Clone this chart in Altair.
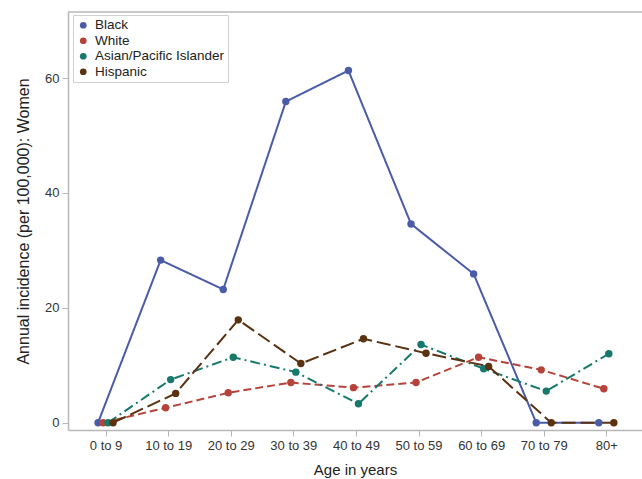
import altair as alt
import pandas as pd

# Age bands on the x axis
age_bands = ["0 to 9", "10 to 19", "20 to 29", "30 to 39", "40 to 49",
             "50 to 59", "60 to 69", "70 to 79", "80+"]

# Series names, in drawing / legend order
groups = ["Black", "White", "Asian/Pacific Islander", "Hispanic"]

# Annual incidence per 100,000 women, by age band
black = [0, 28.3, 23.2, 55.9, 61.3, 34.6, 25.9, 0, 0]
white = [0, 2.6, 5.2, 7.0, 6.1, 7.0, 11.4, 9.2, 5.9]
asian_pi = [0, 7.5, 11.4, 8.8, 3.3, 13.6, 9.4, 5.5, 12.0]
hispanic = [0, 5.1, 17.9, 10.3, 14.6, 12.1, 9.8, 0, 0]

colors = ["#4a5ba8", "#b5433a", "#16796b", "#5a3210"]
dashes = [[1, 0], [8, 4], [10, 4, 2, 4], [14, 5]]

series = [black, white, asian_pi, hispanic]
rows = []
for order, (name, vals) in enumerate(zip(groups, series)):
    for idx, v in enumerate(vals):
        rows.append({"group": name, "order": order, "idx": idx, "value": v})
df = pd.DataFrame(rows)

W, H = 574, 418
GRAY = "#b8b8b8"

label_expr = "[" + ", ".join(f"'{b}'" for b in age_bands) + "][datum.value]"

x_enc = alt.X(
    "xpos:Q",
    scale=alt.Scale(domain=[-0.6, 8.57], nice=False, zero=False),
    axis=alt.Axis(values=list(range(len(age_bands))), labelExpr=label_expr,
                  title="Age in years", grid=False),
)
y_enc = alt.Y(
    "value:Q",
    scale=alt.Scale(domain=[-1.27, 71.49], nice=False, zero=False),
    axis=alt.Axis(values=[0, 20, 40, 60], title="Annual incidence (per 100,000): Women",
                  grid=False),
)
color_scale = alt.Scale(domain=groups, range=colors)

base = alt.Chart(df).transform_calculate(
    # small side-by-side dodge so overlapping series stay visible
    xpos="datum.idx + (datum.order - 1.5) * 0.08"
)

lines = base.mark_line(strokeWidth=2).encode(
    x=x_enc,
    y=y_enc,
    color=alt.Color("group:N", scale=color_scale, legend=None),
    strokeDash=alt.StrokeDash("group:N", scale=alt.Scale(domain=groups, range=dashes),
                              legend=None),
    order="idx:Q",
)

points = base.mark_circle(size=55, opacity=1).encode(
    x=x_enc,
    y=y_enc,
    color=alt.Color(
        "group:N", scale=color_scale,
        legend=alt.Legend(
            title=None, orient="none", legendX=5, legendY=3,
            symbolType="circle", symbolSize=45, symbolStrokeWidth=0,
            symbolOpacity=1,
            labelFontSize=13.5, labelColor="#222", labelFont="Liberation Sans",
            labelOffset=5, rowPadding=0.5, padding=3.5, labelLimit=300,
            strokeColor="#cfcfcf", fillColor="white",
        ),
    ),
)

# top edge of the plot frame
frame_top = alt.Chart(pd.DataFrame({"k": [0]})).mark_rule(
    color=GRAY, strokeWidth=1.5
).encode(x=alt.value(0), x2=alt.value(W), y=alt.value(0))

chart = alt.layer(frame_top, lines, points).resolve_legend(
    color="independent", strokeDash="independent"
).properties(
    width=W, height=H,
    padding={"left": 68, "top": 12, "right": 0, "bottom": 49},
    autosize=alt.AutoSizeParams(type="none"),
).configure_view(stroke=None).configure_axis(
    domainColor=GRAY, domainWidth=1.5, tickColor=GRAY, tickSize=6, tickWidth=1,
    labelFont="Liberation Sans", labelFontSize=13, labelColor="#333",
    titleFont="Liberation Sans", titleFontWeight="normal",
    titleColor="#222", labelPadding=3,
).configure_axisX(titlePadding=10, titleFontSize=15).configure_axisY(
    titlePadding=13, titleFontSize=16
)

chart.save("out.html", embed_options={"renderer": "svg", "actions": False})
